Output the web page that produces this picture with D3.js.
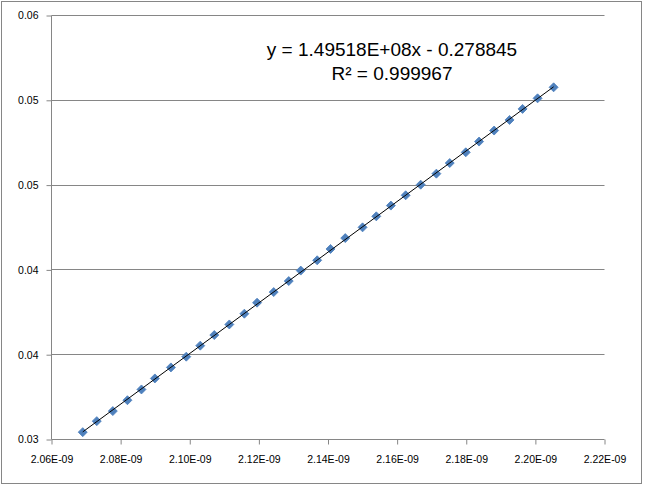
<!DOCTYPE html>
<html>
<head>
<meta charset="utf-8">
<script src="https://cdn.jsdelivr.net/npm/d3@7"></script>
<style>
  body { margin: 0; background: #fff; }
  svg { display: block; }
  .tick text { font-family: "Liberation Sans", Arial, sans-serif; font-size: 10.5px; fill: #000; }
  .eq { font-family: "Liberation Sans", Arial, sans-serif; font-size: 19px; fill: #000; }
</style>
</head>
<body>
<div id="chart"></div>
<script>
// x values in units of 1e-9
var xValues = [2.06904, 2.07310, 2.07774, 2.08197, 2.08603, 2.08991, 2.09455, 2.09899, 2.10304, 2.10710,
               2.11145, 2.11580, 2.11948, 2.12429, 2.12864, 2.13212, 2.13687, 2.14073, 2.14499, 2.15000,
               2.15397, 2.15820, 2.16247, 2.16682, 2.17136, 2.17522, 2.17986, 2.18371, 2.18806, 2.19253,
               2.19629, 2.20064, 2.20528];
var yValues = [0.03052, 0.03130, 0.03201, 0.03278, 0.03354, 0.03432, 0.03510, 0.03586, 0.03664, 0.03739,
               0.03814, 0.03890, 0.03968, 0.04043, 0.04121, 0.04195, 0.04268, 0.04348, 0.04425, 0.04501,
               0.04579, 0.04655, 0.04728, 0.04803, 0.04881, 0.04956, 0.05032, 0.05108, 0.05186, 0.05261,
               0.05339, 0.05414, 0.05492];
var xTicks = [2.06, 2.08, 2.10, 2.12, 2.14, 2.16, 2.18, 2.20, 2.22];
var yTicks = [0.030, 0.036, 0.042, 0.048, 0.054, 0.060];
var equationText = "y = 1.49518E+08x - 0.278845";
var rSquaredText = "R\u00b2 = 0.999967";

var width = 645, height = 485;
var plotLeft = 51.5, plotRight = 604.5, plotTop = 15.5, plotBottom = 439.5;

var svg = d3.select("#chart").append("svg")
            .attr("width", width)
            .attr("height", height);

// chart area border
svg.append("rect")
   .attr("x", 1.5).attr("y", 1.5)
   .attr("width", 640).attr("height", 482)
   .attr("fill", "#fff")
   .attr("stroke", "#868686");

var x = d3.scaleLinear().domain([2.06, 2.22]).range([plotLeft, plotRight]);
var y = d3.scaleLinear().domain([0.030, 0.060]).range([plotBottom, plotTop]);

// gridlines
svg.append("g").selectAll("line")
   .data(yTicks.slice(1))
   .enter().append("line")
   .attr("x1", plotLeft).attr("x2", plotRight)
   .attr("y1", function(d) { return Math.round(y(d) - 0.5) + 0.5; })
   .attr("y2", function(d) { return Math.round(y(d) - 0.5) + 0.5; })
   .attr("stroke", "#868686");

var xAxis = d3.axisBottom(x).tickValues(xTicks).tickSize(5).tickPadding(11)
              .tickFormat(function(d) { return d.toFixed(2) + "E-09"; });
var yAxis = d3.axisLeft(y).tickValues(yTicks).tickSize(5).tickPadding(8)
              .tickFormat(d3.format(".2f"));

var gx = svg.append("g").attr("transform", "translate(0," + plotBottom + ")").call(xAxis);
var gy = svg.append("g").attr("transform", "translate(" + plotLeft + ",0)").call(yAxis);
[gx, gy].forEach(function(g) {
  g.selectAll("path, line").attr("stroke", "#868686");
});
gy.select(".domain").attr("d", "M0," + plotTop + "V" + plotBottom);
gx.select(".domain").attr("d", "M" + plotLeft + ",0H" + plotRight);

// markers
var points = xValues.map(function(d, i) { return {x: d, y: yValues[i]}; });
svg.append("g").selectAll("path")
   .data(points)
   .enter().append("path")
   .attr("d", "M0,-4.5L4.5,0L0,4.5L-4.5,0Z")
   .attr("transform", function(d) { return "translate(" + x(d.x) + "," + y(d.y) + ")"; })
   .attr("fill", "#4F81BD")
   .attr("stroke", "#4A7EBB")
   .attr("stroke-width", 0.8);

// least squares trendline
var mx = d3.mean(xValues), my = d3.mean(yValues);
var sxy = d3.sum(points, function(d) { return (d.x - mx) * (d.y - my); });
var sxx = d3.sum(points, function(d) { return (d.x - mx) * (d.x - mx); });
var slope = sxy / sxx, intercept = my - slope * mx;
var x0 = d3.min(xValues), x1 = d3.max(xValues);
svg.append("line")
   .attr("x1", x(x0)).attr("y1", y(slope * x0 + intercept))
   .attr("x2", x(x1)).attr("y2", y(slope * x1 + intercept))
   .attr("stroke", "#000")
   .attr("stroke-width", 1);

svg.append("text").attr("class", "eq")
   .attr("x", 392).attr("y", 56)
   .attr("text-anchor", "middle")
   .text(equationText);
svg.append("text").attr("class", "eq")
   .attr("x", 392).attr("y", 80)
   .attr("text-anchor", "middle")
   .text(rSquaredText);
</script>
</body>
</html>
